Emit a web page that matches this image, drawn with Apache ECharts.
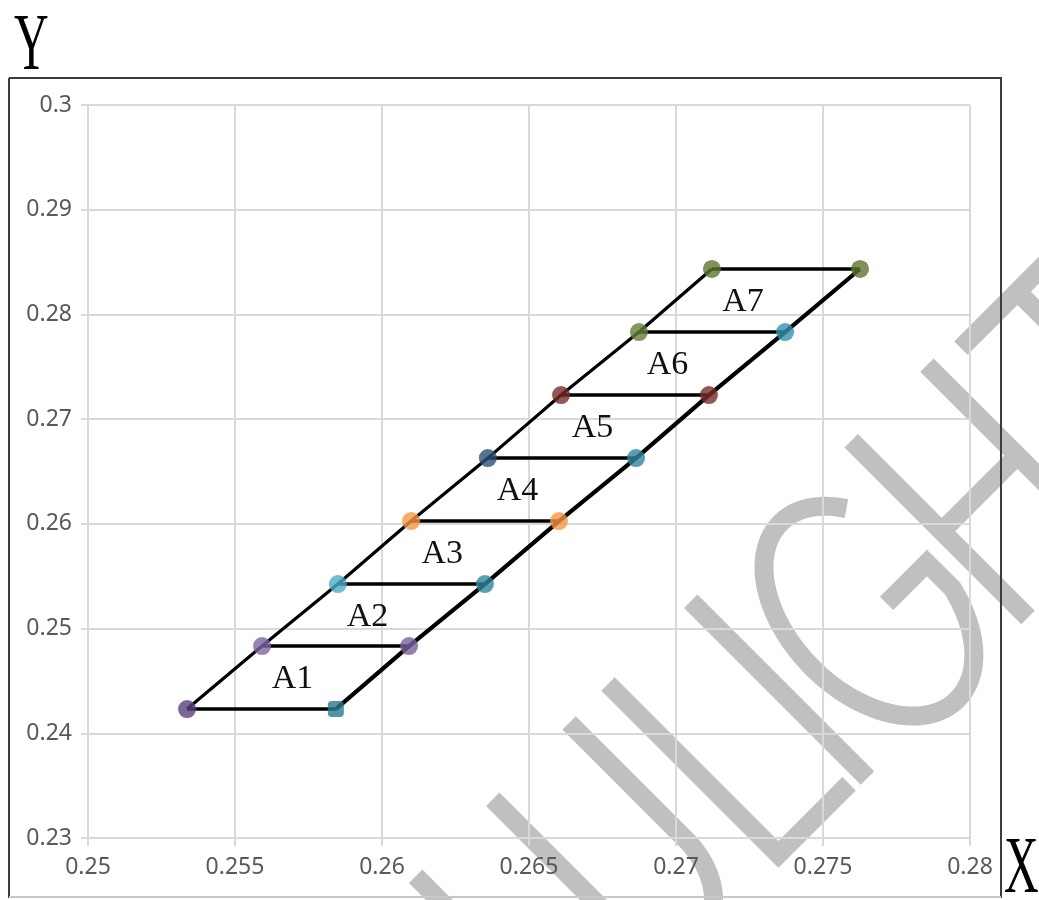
<!DOCTYPE html>
<html>
<head>
<meta charset="utf-8">
<script src="https://cdn.jsdelivr.net/npm/echarts@6/dist/echarts.min.js"></script>
<style>
html,body{margin:0;padding:0;background:#fff;}
#main{width:1039px;height:900px;}
</style>
</head>
<body>
<div id="main"></div>
<script>
// ---- data ----
const levelY = [0.24231, 0.24833, 0.25425, 0.26027, 0.26628, 0.27230, 0.27832, 0.28434];
const leftX  = [0.25337, 0.25592, 0.25850, 0.26099, 0.26360, 0.26609, 0.26874, 0.27122];
const rightX = [0.25843, 0.26092, 0.26350, 0.26602, 0.26864, 0.27112, 0.27371, 0.27626];
const leftColors  = ['#5a4080', '#8064a2', '#4bacc6', '#f79646', '#2c4d75', '#772c2a', '#62803a', '#5f7530'];
const rightColors = ['#2b7a8c', '#7a5f9c', '#31859c', '#f79646', '#31859c', '#772c2a', '#3591b2', '#5f7530'];
const regionNames = ['A1', 'A2', 'A3', 'A4', 'A5', 'A6', 'A7'];
const xTickLabels = ['0.25', '0.255', '0.26', '0.265', '0.27', '0.275', '0.28'];
const yTickLabels = ['0.23', '0.24', '0.25', '0.26', '0.27', '0.28', '0.29', '0.3'];

const chart = echarts.init(document.getElementById('main'), null, {renderer: 'canvas'});

const series = [];
// horizontal rungs
for (let i = 0; i < levelY.length; i++) {
  series.push({
    type: 'line', silent: true, symbol: 'none', z: 3,
    data: [[leftX[i], levelY[i]], [rightX[i], levelY[i]]],
    lineStyle: {color: '#000', width: 3.5}
  });
}
// diagonals
series.push({
  type: 'line', silent: true, symbol: 'none', z: 3,
  data: leftX.map((x, i) => [x, levelY[i]]),
  lineStyle: {color: '#000', width: 3.2}
});
series.push({
  type: 'line', silent: true, symbol: 'none', z: 3,
  data: rightX.map((x, i) => [x, levelY[i]]),
  lineStyle: {color: '#000', width: 4.2}
});
// markers
const pts = [];
leftX.forEach((x, i) => pts.push({value: [x, levelY[i]], itemStyle: {color: leftColors[i]}}));
rightX.forEach((x, i) => pts.push({value: [x, levelY[i]], itemStyle: {color: rightColors[i]}, symbol: i === 0 ? 'roundRect' : 'circle', symbolSize: i === 0 ? 16 : 18}));
series.push({
  type: 'scatter', z: 4, symbol: 'circle', symbolSize: 18, data: pts
});
// region labels at centroid of each parallelogram
const labelData = regionNames.map((n, i) => ({
  name: n,
  value: [(leftX[i] + rightX[i] + leftX[i + 1] + rightX[i + 1]) / 4, (levelY[i] + levelY[i + 1]) / 2]
}));
series.push({
  type: 'scatter', z: 5, symbolSize: 1, itemStyle: {color: 'rgba(0,0,0,0)'}, data: labelData,
  label: {show: true, position: 'inside', formatter: '{b}', color: '#111', opacity: 1,
          fontFamily: 'Liberation Serif', fontSize: 34, offset: [-6, 2]}
});

// ---- watermark shapes (decoration, local letter coordinates) ----
const wm = '#c0c0c0';
const wmStyle = {stroke: wm, lineWidth: 19, fill: null, lineCap: 'butt', lineJoin: 'miter'};
function ellPts(cx, cy, rx, ry, a0, a1, n) {
  const out = [];
  for (let k = 0; k <= n; k++) {
    const t = (a0 + (a1 - a0) * k / n) * Math.PI / 180;
    out.push([cx + rx * Math.cos(t), cy - ry * Math.sin(t)]);
  }
  return out;
}
const uPts = [[-163, 0]].concat(ellPts(-109, 165, 54, 76, 180, 360, 40)).concat([[-55, 0]]);
const gPts = ellPts(236, 133, 80, 125, 45, 340, 80).concat([[311, 140], [254, 140]]);
function ln(x1, y1, x2, y2) { return {type: 'line', shape: {x1, y1, x2, y2}, style: wmStyle}; }
const wmChildren = [
  ln(-272, 0, -272, 250),
  {type: 'polyline', shape: {points: uPts}, style: wmStyle},
  {type: 'polyline', shape: {points: [[0, 0], [0, 241], [100, 241]]}, style: wmStyle},
  ln(117, 0, 117, 250),
  {type: 'polyline', shape: {points: gPts}, style: wmStyle},
  ln(344, 0, 344, 250), ln(451, 0, 451, 250), ln(344, 128, 451, 128),
  ln(487, 12, 647, 12), ln(567, 12, 567, 250)
];

const axisGray = '#d9d9d9';

chart.setOption({
  animation: false,
  backgroundColor: '#fff',
  grid: {left: 88, right: 69, top: 105, bottom: 62},
  xAxis: {
    type: 'value', min: 0.25, max: 0.28, interval: 0.005, z: 1,
    axisLine: {show: true, lineStyle: {color: axisGray, width: 2}},
    axisTick: {show: true, length: 8, lineStyle: {color: axisGray, width: 2}},
    splitLine: {show: true, lineStyle: {color: axisGray, width: 2}},
    axisLabel: {color: '#595959', fontSize: 23, fontFamily: 'Noto Sans', margin: 18,
      formatter: v => xTickLabels[Math.round((v - 0.25) / 0.005)]}
  },
  yAxis: {
    type: 'value', min: 0.23, max: 0.3, interval: 0.01, z: 1,
    axisLine: {show: true, lineStyle: {color: axisGray, width: 2}},
    axisTick: {show: true, length: 7, lineStyle: {color: axisGray, width: 2}},
    splitLine: {show: true, lineStyle: {color: axisGray, width: 2}},
    axisLabel: {color: '#595959', fontSize: 23, fontFamily: 'Noto Sans', margin: 16,
      formatter: v => yTickLabels[Math.round((v - 0.23) / 0.01)]}
  },
  graphic: {elements: [
    {type: 'group', x: 608, y: 684, rotation: Math.PI / 4, z: -1, silent: true, children: wmChildren},
    {type: 'line', z: 10, silent: true, shape: {x1: 9, y1: 78, x2: 1002, y2: 78}, style: {stroke: '#3c3c3c', lineWidth: 2}},
    {type: 'line', z: 10, silent: true, shape: {x1: 9, y1: 78, x2: 9, y2: 898}, style: {stroke: '#3c3c3c', lineWidth: 2}},
    {type: 'line', z: 10, silent: true, shape: {x1: 1001, y1: 78, x2: 1001, y2: 898}, style: {stroke: '#3c3c3c', lineWidth: 2}},
    {type: 'line', z: 10, silent: true, shape: {x1: 9, y1: 897, x2: 1001, y2: 897}, style: {stroke: '#c8c8c8', lineWidth: 2}},
    {type: 'text', z: 10, x: 14, y: 8, scaleX: 0.6, silent: true,
     style: {text: 'Y', font: '80px "Liberation Serif"', fill: '#000', textVerticalAlign: 'top'}},
    {type: 'text', z: 10, x: 1004, y: 831, scaleX: 0.6, silent: true,
     style: {text: 'X', font: '80px "Liberation Serif"', fill: '#000', textVerticalAlign: 'top'}}
  ]},
  series: series
});
</script>
</body>
</html>
